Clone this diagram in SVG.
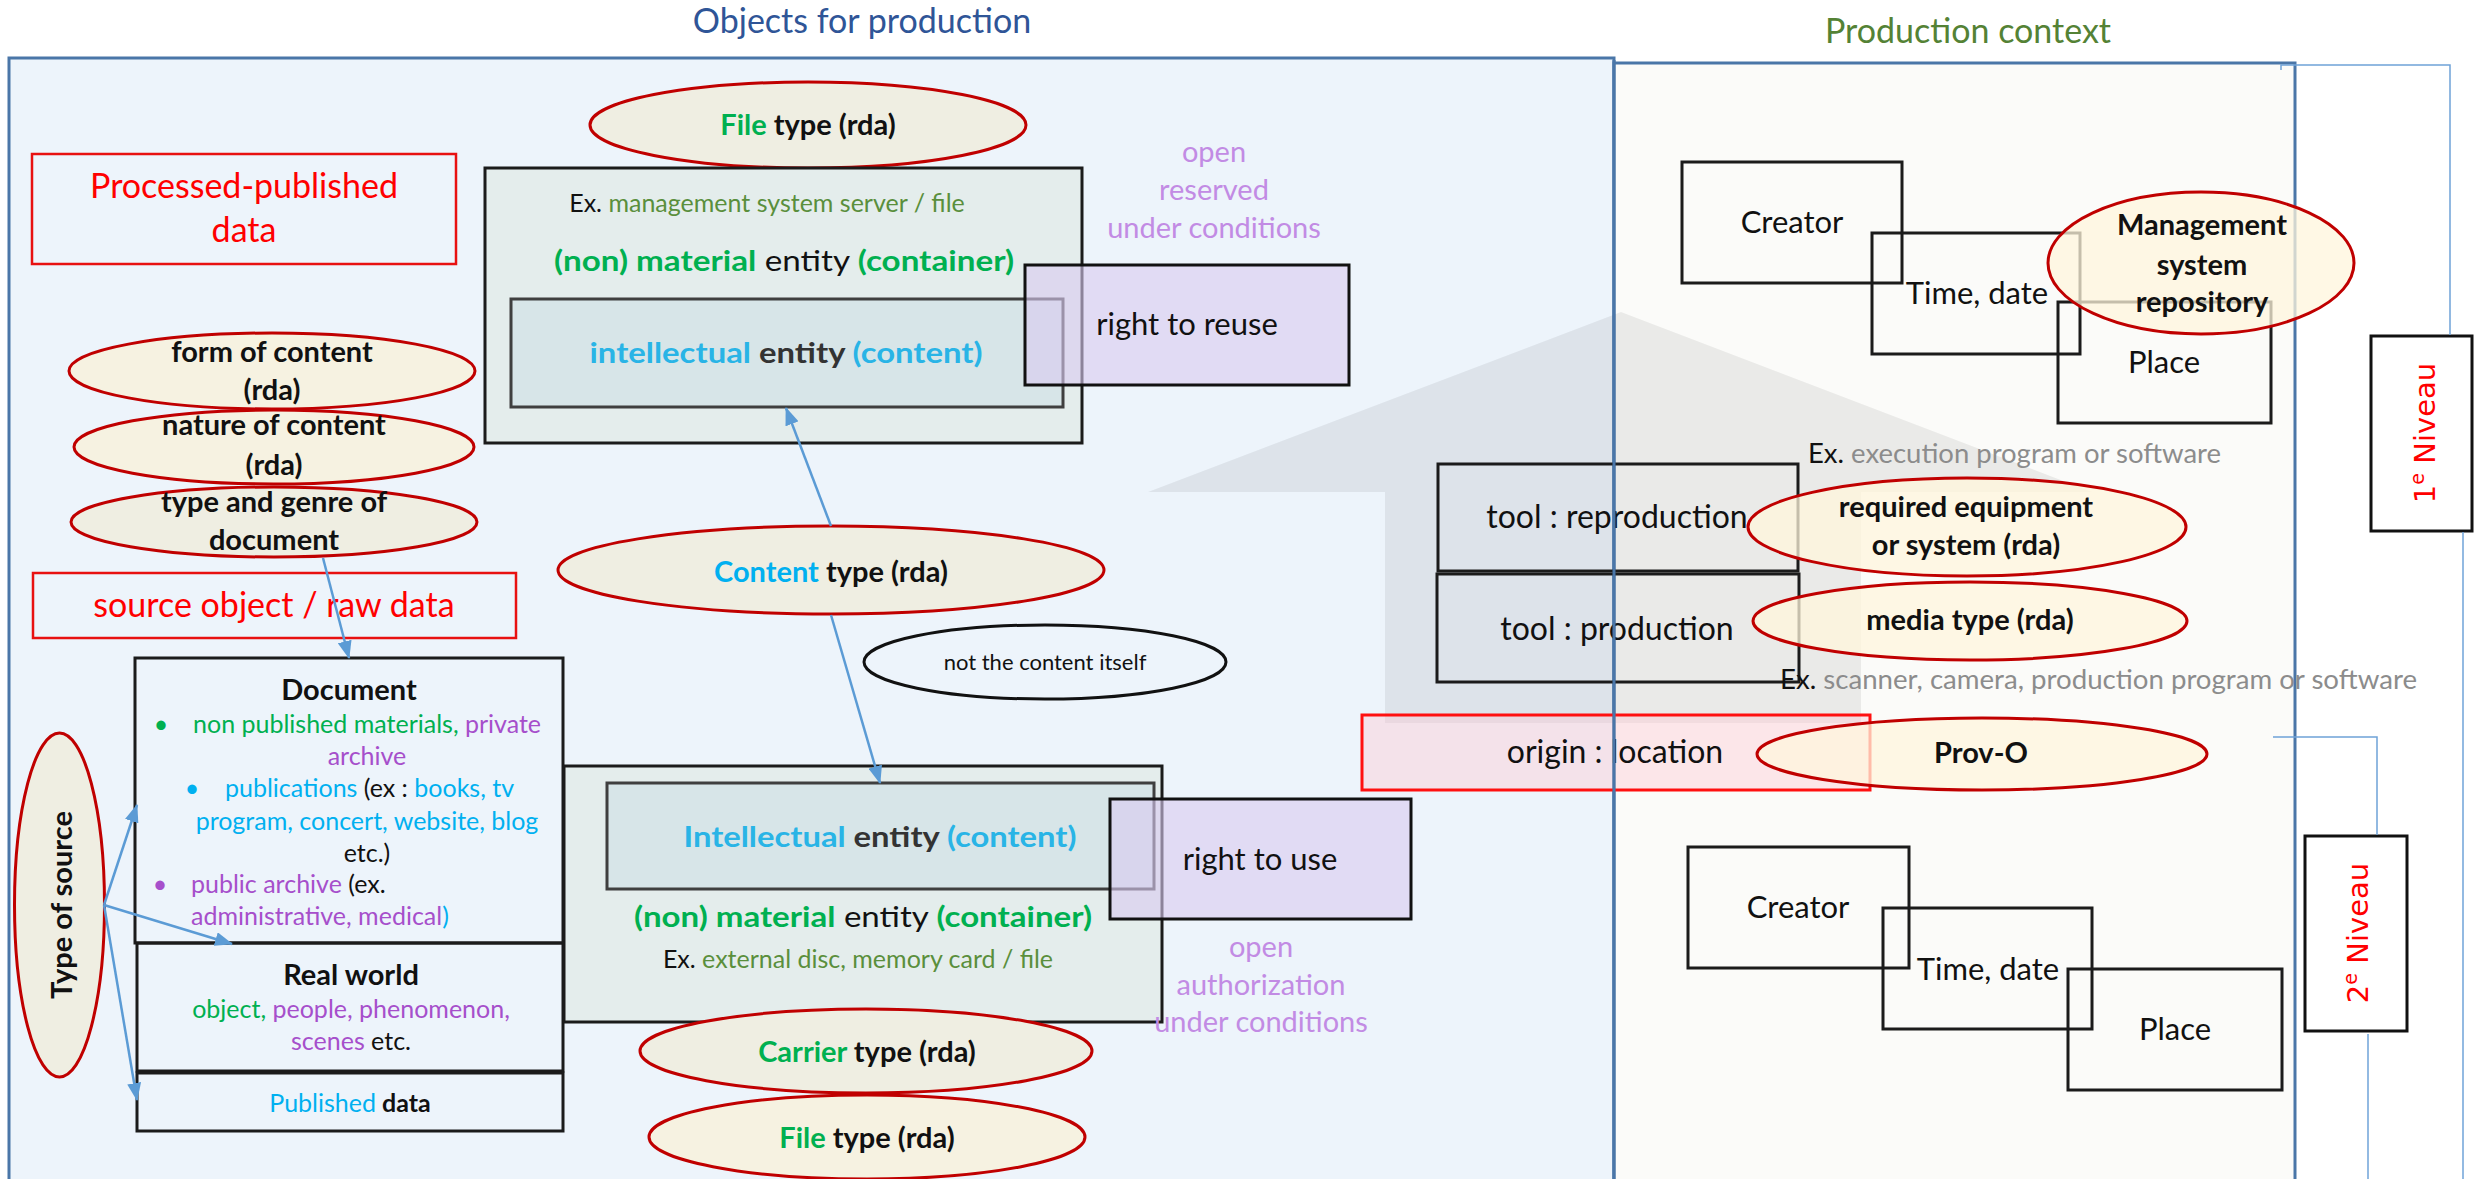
<svg xmlns="http://www.w3.org/2000/svg" width="2475" height="1179" viewBox="0 0 2475 1179">
<defs>
<style>
text{font-family:Lato,"Liberation Sans",sans-serif;fill:#111}
.b{font-weight:700}
.s22{font-size:22px}.s25{font-size:25px}.s27{font-size:27px}.s29{font-size:29px}.s31{font-size:31px}.s32{font-size:32px}.s34{font-size:34px}
.box{fill:none;stroke:#1b1b1b;stroke-width:3}
.ell{stroke:#C00000;stroke-width:3}
.e1{fill:#EFEEE2}.e2{fill:#F6F2E1}.e3{fill:#FFF5DC;fill-opacity:.75}
.cont{fill:#E4EDEC;stroke:#1b1b1b;stroke-width:3}
.inner{fill:#D7E5E8;stroke:#3f3f3f;stroke-width:3}
.rights{fill:#D8C9F0;fill-opacity:.6;stroke:#111;stroke-width:3}
.red{fill:none;stroke:#E81010;stroke-width:2.5}
.con{fill:none;stroke:#5B9BD5;stroke-width:2.5;marker-end:url(#ah)}
.thin{fill:none;stroke:#6FA3D8;stroke-width:1.5}
.g{fill:#00B050}.ol{fill:#5A8F3C}.bl{fill:#00B0F0}.pu{fill:#A64FCB}.lav{fill:#C28BE4}.gr{fill:#8C8C8C}.rd{fill:#FF0000}.k{fill:#111}.ib{fill:#29B4E6}
.niv{font-family:"DejaVu Sans",sans-serif;font-size:29px;fill:#FF0000}
</style>
<marker id="ah" markerUnits="userSpaceOnUse" markerWidth="18" markerHeight="14" refX="17" refY="7" orient="auto"><path d="M0,0 L18,7 L0,14 z" fill="#5B9BD5"/></marker>
</defs>

<g id="panels">
<rect x="9" y="58" width="1605" height="1140" fill="#EDF4FB" stroke="#4A76A8" stroke-width="3"/>
<rect x="1614" y="63" width="681" height="1140" fill="#FBFBF9" stroke="#4A76A8" stroke-width="3"/>
<text x="862" y="33" class="s34" style="fill:#2F5597" text-anchor="middle">Objects for production</text>
<text x="1968" y="43" class="s34" style="fill:#548235" text-anchor="middle">Production context</text>
</g>

<g id="context-arrow">
<polygon points="1621,312 2092,492 1861,492 1861,723 1385,723 1385,492 1148,492" fill="#000" fill-opacity="0.065"/>
</g>

<g id="processed-published">
<rect x="32" y="154" width="424" height="110" class="red"/>
<text x="244" y="198" class="s34 rd" text-anchor="middle">Processed-published</text>
<text x="244" y="242" class="s34 rd" text-anchor="middle">data</text>
</g>

<g id="form-of-content">
<ellipse cx="272" cy="371" rx="203" ry="38" class="ell e2"/>
<text x="272" y="362" class="s29 b" text-anchor="middle">form of content</text>
<text x="272" y="400" class="s29 b" text-anchor="middle">(rda)</text>
</g>
<g id="nature-of-content">
<ellipse cx="274" cy="447" rx="200" ry="37" class="ell e2"/>
<text x="274" y="435" class="s29 b" text-anchor="middle">nature of content</text>
<text x="274" y="475" class="s29 b" text-anchor="middle">(rda)</text>
</g>
<g id="type-genre">
<ellipse cx="274" cy="522" rx="203" ry="35" class="ell e1"/>
<text x="274" y="512" class="s29 b" text-anchor="middle">type and genre of</text>
<text x="274" y="550" class="s29 b" text-anchor="middle">document</text>
</g>

<g id="source-object">
<rect x="33" y="573" width="483" height="65" class="red"/>
<text x="274" y="617" class="s34 rd" text-anchor="middle">source object / raw data</text>
</g>

<g id="document">
<rect x="135" y="658" width="428" height="285" class="box"/>
<text x="349" y="700" class="s29 b" text-anchor="middle">Document</text>
<text x="161" y="733" class="s25 g" text-anchor="middle">•</text>
<text x="193" y="733" class="s25"><tspan class="g">non published materials,</tspan><tspan class="pu"> private</tspan></text>
<text x="367" y="765" class="s25 pu" text-anchor="middle">archive</text>
<text x="192" y="797" class="s25 bl" text-anchor="middle">•</text>
<text x="225" y="797" class="s25"><tspan class="bl">publications</tspan><tspan class="k"> (ex : </tspan><tspan class="bl">books, tv</tspan></text>
<text x="367" y="830" class="s25 bl" text-anchor="middle">program, concert, website, blog</text>
<text x="367" y="862" class="s25" text-anchor="middle">etc.)</text>
<text x="160" y="893" class="s25 pu" text-anchor="middle">•</text>
<text x="191" y="893" class="s25"><tspan class="pu">public archive</tspan><tspan class="k"> (ex.</tspan></text>
<text x="191" y="925" class="s25"><tspan class="pu">administrative, medical</tspan><tspan class="bl">)</tspan></text>
</g>
<g id="real-world">
<rect x="137" y="943" width="426" height="128" class="box"/>
<text x="351" y="985" class="s29 b" text-anchor="middle">Real world</text>
<text x="351" y="1018" class="s25" text-anchor="middle"><tspan class="g">object,</tspan><tspan class="pu"> people, phenomenon,</tspan></text>
<text x="351" y="1050" class="s25" text-anchor="middle"><tspan class="pu">scenes</tspan><tspan class="k"> etc.</tspan></text>
</g>
<g id="published-data">
<rect x="137" y="1073" width="426" height="58" class="box"/>
<text x="350" y="1112" class="s25" text-anchor="middle"><tspan class="bl">Published</tspan><tspan class="k b"> data</tspan></text>
</g>

<g id="type-of-source">
<ellipse cx="59.5" cy="905" rx="45" ry="172" class="ell e1"/>
<text transform="translate(72,905) rotate(-90)" class="s29 b" text-anchor="middle">Type of source</text>
</g>

<g id="file-type-top">
<ellipse cx="808" cy="125" rx="218" ry="43" class="ell e1"/>
<text x="808" y="135" class="s29 b" text-anchor="middle"><tspan class="g">File</tspan> type (rda)</text>
</g>

<g id="container-top">
<rect x="485" y="168" width="597" height="275" class="cont"/>
<text x="767" y="212" class="s25" text-anchor="middle">Ex.<tspan class="ol"> management system server / file</tspan></text>
<text x="784" y="271" class="s29" text-anchor="middle" textLength="460" lengthAdjust="spacingAndGlyphs"><tspan class="g b">(non) material</tspan> entity <tspan class="g b">(container)</tspan></text>
</g>
<g id="intellectual-top">
<rect x="511" y="299" width="552" height="108" class="inner"/>
<text x="786" y="363" class="s29 b" text-anchor="middle" textLength="393" lengthAdjust="spacingAndGlyphs"><tspan class="ib">intellectual</tspan><tspan style="fill:#333"> entity </tspan><tspan class="ib">(content)</tspan></text>
</g>
<g id="right-to-reuse">
<rect x="1025" y="265" width="324" height="120" class="rights"/>
<text x="1187" y="335" class="s31" text-anchor="middle">right to reuse</text>
</g>
<g id="reuse-conditions">
<text x="1214" y="162" class="s29 lav" text-anchor="middle">open</text>
<text x="1214" y="200" class="s29 lav" text-anchor="middle">reserved</text>
<text x="1214" y="238" class="s29 lav" text-anchor="middle">under conditions</text>
</g>

<g id="content-type">
<ellipse cx="831" cy="570" rx="273" ry="44" class="ell e1"/>
<text x="831" y="582" class="s29 b" text-anchor="middle"><tspan class="bl">Content</tspan> type (rda)</text>
</g>
<g id="not-content">
<ellipse cx="1045" cy="662" rx="181" ry="37" fill="none" stroke="#111" stroke-width="3"/>
<text x="1045" y="670" class="s22" text-anchor="middle">not the content itself</text>
</g>

<g id="container-bottom">
<rect x="564" y="766" width="598" height="256" class="cont"/>
<text x="863" y="927" class="s29" text-anchor="middle" textLength="458" lengthAdjust="spacingAndGlyphs"><tspan class="g b">(non) material</tspan> entity <tspan class="g b">(container)</tspan></text>
<text x="858" y="968" class="s25" text-anchor="middle">Ex.<tspan class="ol"> external disc, memory card / file</tspan></text>
</g>
<g id="intellectual-bottom">
<rect x="607" y="783" width="547" height="106" class="inner"/>
<text x="880" y="847" class="s29 b" text-anchor="middle" textLength="393" lengthAdjust="spacingAndGlyphs"><tspan class="ib">Intellectual</tspan><tspan style="fill:#333"> entity </tspan><tspan class="ib">(content)</tspan></text>
</g>
<g id="right-to-use">
<rect x="1110" y="799" width="301" height="120" class="rights"/>
<text x="1260" y="870" class="s31" text-anchor="middle">right to use</text>
</g>
<g id="use-conditions">
<text x="1261" y="957" class="s29 lav" text-anchor="middle">open</text>
<text x="1261" y="995" class="s29 lav" text-anchor="middle">authorization</text>
<text x="1261" y="1032" class="s29 lav" text-anchor="middle">under conditions</text>
</g>
<g id="carrier-type">
<ellipse cx="866" cy="1051" rx="226" ry="42" class="ell e1"/>
<text x="867" y="1062" class="s29 b" text-anchor="middle"><tspan class="g">Carrier</tspan> type (rda)</text>
</g>
<g id="file-type-bottom">
<ellipse cx="867" cy="1137" rx="218" ry="42" class="ell e2"/>
<text x="867" y="1148" class="s29 b" text-anchor="middle"><tspan class="g">File</tspan> type (rda)</text>
</g>

<g id="creator-1">
<rect x="1682" y="162" width="220" height="121" class="box"/>
<text x="1792" y="233" class="s31" text-anchor="middle">Creator</text>
</g>
<g id="time-1">
<rect x="1872" y="233" width="208" height="121" class="box"/>
<text x="1977" y="304" class="s31" text-anchor="middle">Time, date</text>
</g>
<g id="place-1">
<rect x="2058" y="302" width="213" height="121" class="box"/>
<text x="2164" y="373" class="s31" text-anchor="middle">Place</text>
</g>
<g id="management">
<ellipse cx="2201" cy="263" rx="153" ry="71" class="ell e3"/>
<text x="2202" y="235" class="s29 b" text-anchor="middle">Management</text>
<text x="2202" y="275" class="s29 b" text-anchor="middle">system</text>
<text x="2202" y="312" class="s29 b" text-anchor="middle">repository</text>
</g>

<g id="ex-execution">
<text x="1808" y="463" class="s27" textLength="413" lengthAdjust="spacingAndGlyphs">Ex.<tspan class="gr"> execution program or software</tspan></text>
</g>
<g id="tool-reproduction">
<rect x="1438" y="464" width="360" height="107" class="box"/>
<text x="1617" y="528" class="s32" text-anchor="middle">tool : reproduction</text>
</g>
<g id="tool-production">
<rect x="1437" y="574" width="362" height="108" class="box"/>
<text x="1617" y="640" class="s32" text-anchor="middle">tool : production</text>
</g>
<g id="required-equipment">
<ellipse cx="1967" cy="527" rx="219" ry="49" class="ell e3"/>
<text x="1966" y="517" class="s29 b" text-anchor="middle">required equipment</text>
<text x="1966" y="555" class="s29 b" text-anchor="middle">or system (rda)</text>
</g>
<g id="media-type">
<ellipse cx="1970" cy="621" rx="217" ry="39" class="ell e3"/>
<text x="1970" y="630" class="s29 b" text-anchor="middle">media type (rda)</text>
</g>
<g id="ex-scanner">
<text x="1780" y="689" class="s27" textLength="637" lengthAdjust="spacingAndGlyphs">Ex.<tspan class="gr"> scanner, camera, production program or software</tspan></text>
</g>
<g id="origin-location">
<rect x="1362" y="715" width="508" height="75" fill="#FFC8D2" fill-opacity="0.4" stroke="#FF1010" stroke-width="3"/>
<text x="1615" y="763" class="s32" text-anchor="middle">origin : location</text>
</g>
<g id="prov-o">
<ellipse cx="1982" cy="754" rx="225" ry="36" class="ell e3"/>
<text x="1981" y="763" class="s29 b" text-anchor="middle">Prov-O</text>
</g>

<g id="creator-2">
<rect x="1688" y="847" width="221" height="121" class="box"/>
<text x="1798" y="918" class="s31" text-anchor="middle">Creator</text>
</g>
<g id="time-2">
<rect x="1883" y="908" width="209" height="121" class="box"/>
<text x="1988" y="980" class="s31" text-anchor="middle">Time, date</text>
</g>
<g id="place-2">
<rect x="2068" y="969" width="214" height="121" class="box"/>
<text x="2175" y="1040" class="s31" text-anchor="middle">Place</text>
</g>

<g id="niveau-1">
<rect x="2371" y="336" width="101" height="195" fill="#fff" stroke="#111" stroke-width="3"/>
<text transform="translate(2435,433) rotate(-90)" class="niv" text-anchor="middle">1<tspan baseline-shift="super" font-size="19">e</tspan> Niveau</text>
</g>
<g id="niveau-2">
<rect x="2305" y="836" width="102" height="195" fill="#fff" stroke="#111" stroke-width="3"/>
<text transform="translate(2368,933) rotate(-90)" class="niv" text-anchor="middle">2<tspan baseline-shift="super" font-size="19">e</tspan> Niveau</text>
</g>

<g id="connectors">
<path class="con" d="M323,558 L349,658"/>
<path class="con" d="M104,905 L137,805"/>
<path class="con" d="M104,905 L232,944"/>
<path class="con" d="M104,905 L137,1100"/>
<path class="con" d="M831,526 L786,408"/>
<path class="con" d="M831,615 L880,783"/>
<path class="thin" d="M2281,70 V65 H2450 V335"/>
<path class="thin" d="M2463,532 V1179"/>
<path class="thin" d="M2273,737 H2377 V835"/>
<path class="thin" d="M2368,1034 V1179"/>
<line x1="1614" y1="60" x2="1614" y2="1179" stroke="#4A76A8" stroke-width="3"/>
</g>
</svg>
